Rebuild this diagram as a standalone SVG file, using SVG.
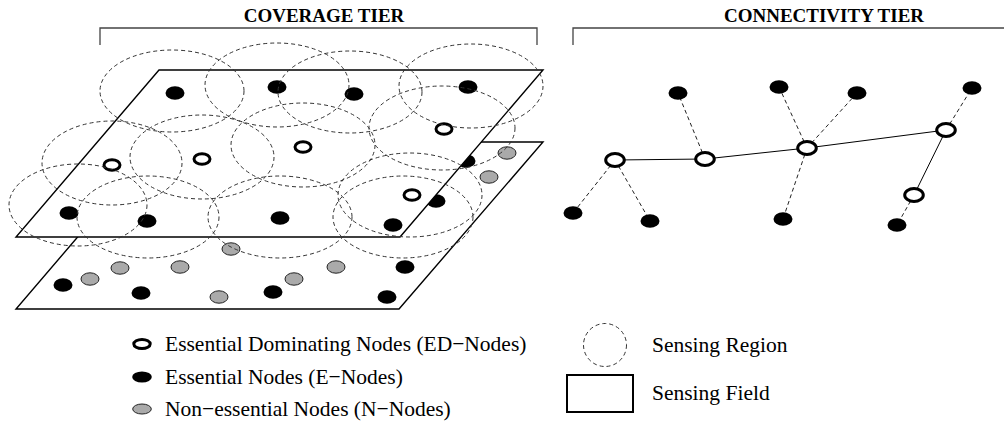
<svg xmlns="http://www.w3.org/2000/svg" width="1004" height="426" viewBox="0 0 1004 426">
  <style>
    .ed { fill: #fff; stroke: #000; stroke-width: 3; }
    .en { fill: #000; }
    .nn { fill: #aaa; stroke: #222; stroke-width: 1; }
    .sr { fill: none; stroke: #333; stroke-width: 1; stroke-dasharray: 4 3; }
    .field { fill: #fff; stroke: #000; stroke-width: 1.4; stroke-linejoin: miter; }
    .bracket { fill: none; stroke: #444; stroke-width: 1.3; }
    .link { stroke: #000; stroke-width: 1; fill: none; }
    .dash { stroke: #222; stroke-dasharray: 4 3; }
    .title { font-family: "Liberation Serif", "Times New Roman", serif; font-weight: bold; font-size: 19px; fill: #000; }
    .label { font-family: "Liberation Serif", "Times New Roman", serif; font-size: 21.5px; fill: #000; }
  </style>

  <rect width="1004" height="426" fill="#fff"/>

  <!-- Tier headings with brackets -->
  <g id="headings">
    <text class="title" x="324" y="22" text-anchor="middle">COVERAGE TIER</text>
    <polyline class="bracket" points="100,45 100,28 537,28 537,45"/>
    <text class="title" x="824" y="22" text-anchor="middle">CONNECTIVITY TIER</text>
    <polyline class="bracket" points="573,45 573,28 1004,28"/>
  </g>

  <!-- Coverage tier: lower sensing field with its nodes -->
  <g id="field-lower">
    <polygon class="field" points="159,142 543,142 399,309 16,309"/>
    <g id="lower-e1"><ellipse class="en" cx="466" cy="161" rx="9.5" ry="6.7"/></g>
    <g id="lower-e2"><ellipse class="en" cx="436" cy="201" rx="9.5" ry="6.7"/></g>
    <g id="lower-e3"><ellipse class="en" cx="63" cy="285" rx="9.5" ry="6.7"/></g>
    <g id="lower-e4"><ellipse class="en" cx="141" cy="293" rx="9.5" ry="6.7"/></g>
    <g id="lower-e5"><ellipse class="en" cx="273" cy="292" rx="9.5" ry="6.7"/></g>
    <g id="lower-e6"><ellipse class="en" cx="387" cy="297" rx="9.5" ry="6.7"/></g>
    <g id="lower-e7"><ellipse class="en" cx="405" cy="267" rx="9.5" ry="6.7"/></g>
    <g id="lower-n1"><ellipse class="nn" cx="507" cy="153" rx="9" ry="6.2"/></g>
    <g id="lower-n2"><ellipse class="nn" cx="489" cy="177" rx="9" ry="6.2"/></g>
    <g id="lower-n3"><ellipse class="nn" cx="90" cy="279" rx="9" ry="6.2"/></g>
    <g id="lower-n4"><ellipse class="nn" cx="120" cy="268" rx="9" ry="6.2"/></g>
    <g id="lower-n5"><ellipse class="nn" cx="180" cy="267" rx="9" ry="6.2"/></g>
    <g id="lower-n6"><ellipse class="nn" cx="231" cy="249" rx="9" ry="6.2"/></g>
    <g id="lower-n7"><ellipse class="nn" cx="219" cy="297" rx="9" ry="6.2"/></g>
    <g id="lower-n8"><ellipse class="nn" cx="294" cy="279" rx="9" ry="6.2"/></g>
    <g id="lower-n9"><ellipse class="nn" cx="336" cy="267" rx="9" ry="6.2"/></g>
  </g>

  <!-- Coverage tier: upper sensing field with its nodes -->
  <g id="field-upper">
    <polygon class="field" points="159,70 543,70 400,237 16,237"/>
    <g id="upper-e1"><ellipse class="en" cx="175" cy="93" rx="9.5" ry="6.7"/></g>
    <g id="upper-e2"><ellipse class="en" cx="277" cy="87" rx="9.5" ry="6.7"/></g>
    <g id="upper-e3"><ellipse class="en" cx="354" cy="94" rx="9.5" ry="6.7"/></g>
    <g id="upper-e4"><ellipse class="en" cx="468" cy="87" rx="9.5" ry="6.7"/></g>
    <g id="upper-e5"><ellipse class="en" cx="69" cy="213" rx="9.5" ry="6.7"/></g>
    <g id="upper-e6"><ellipse class="en" cx="147" cy="221" rx="9.5" ry="6.7"/></g>
    <g id="upper-e7"><ellipse class="en" cx="280" cy="218" rx="9.5" ry="6.7"/></g>
    <g id="upper-e8"><ellipse class="en" cx="393" cy="225" rx="9.5" ry="6.7"/></g>
    <g id="upper-d1"><ellipse class="ed" cx="112" cy="165" rx="8" ry="5.3"/></g>
    <g id="upper-d2"><ellipse class="ed" cx="202" cy="159" rx="8" ry="5.3"/></g>
    <g id="upper-d3"><ellipse class="ed" cx="303" cy="147" rx="8" ry="5.3"/></g>
    <g id="upper-d4"><ellipse class="ed" cx="444" cy="129" rx="8" ry="5.3"/></g>
    <g id="upper-d5"><ellipse class="ed" cx="412" cy="195" rx="8" ry="5.3"/></g>
  </g>

  <!-- Sensing regions of the upper-field nodes -->
  <g id="sensing-regions">
    <ellipse class="sr" cx="172" cy="91" rx="72" ry="41"/>
    <ellipse class="sr" cx="277" cy="85" rx="72" ry="42"/>
    <ellipse class="sr" cx="350" cy="92" rx="72" ry="41"/>
    <ellipse class="sr" cx="471" cy="86" rx="72" ry="42"/>
    <ellipse class="sr" cx="112" cy="163" rx="70" ry="42"/>
    <ellipse class="sr" cx="202" cy="157" rx="72" ry="42"/>
    <ellipse class="sr" cx="303" cy="145" rx="72" ry="42"/>
    <ellipse class="sr" cx="442" cy="128" rx="73" ry="42"/>
    <ellipse class="sr" cx="78" cy="205" rx="69" ry="41"/>
    <ellipse class="sr" cx="148" cy="217" rx="71" ry="41"/>
    <ellipse class="sr" cx="280" cy="217" rx="72" ry="41"/>
    <ellipse class="sr" cx="410" cy="195" rx="72" ry="42"/>
    <ellipse class="sr" cx="403" cy="217" rx="70" ry="41"/>
  </g>

  <!-- Connectivity tier: backbone and attachment links -->
  <g id="connectors">
    <line class="link" x1="615" y1="160" x2="705" y2="159"/>
    <line class="link" x1="705" y1="159" x2="807" y2="148"/>
    <line class="link" x1="807" y1="148" x2="946" y2="130"/>
    <line class="link" x1="946" y1="130" x2="914" y2="195"/>
    <line class="link dash" x1="615" y1="160" x2="573" y2="213"/>
    <line class="link dash" x1="615" y1="160" x2="650" y2="221"/>
    <line class="link dash" x1="705" y1="159" x2="678" y2="93"/>
    <line class="link dash" x1="807" y1="148" x2="779" y2="87"/>
    <line class="link dash" x1="807" y1="148" x2="857" y2="93"/>
    <line class="link dash" x1="807" y1="148" x2="783" y2="219"/>
    <line class="link dash" x1="946" y1="130" x2="972" y2="88"/>
    <line class="link dash" x1="914" y1="195" x2="897" y2="225"/>
  </g>

  <!-- Connectivity tier nodes -->
  <g id="c-d1"><ellipse class="ed" cx="615" cy="160" rx="9.3" ry="6.5"/></g>
  <g id="c-d2"><ellipse class="ed" cx="705" cy="159" rx="9.3" ry="6.5"/></g>
  <g id="c-d3"><ellipse class="ed" cx="807" cy="148" rx="9.3" ry="6.5"/></g>
  <g id="c-d4"><ellipse class="ed" cx="946" cy="130" rx="9.3" ry="6.5"/></g>
  <g id="c-d5"><ellipse class="ed" cx="914" cy="195" rx="9.3" ry="6.5"/></g>
  <g id="c-e1"><ellipse class="en" cx="678" cy="93" rx="9.5" ry="6.7"/></g>
  <g id="c-e2"><ellipse class="en" cx="779" cy="87" rx="9.5" ry="6.7"/></g>
  <g id="c-e3"><ellipse class="en" cx="857" cy="93" rx="9.5" ry="6.7"/></g>
  <g id="c-e4"><ellipse class="en" cx="972" cy="88" rx="9.5" ry="6.7"/></g>
  <g id="c-e5"><ellipse class="en" cx="573" cy="213" rx="9.5" ry="6.7"/></g>
  <g id="c-e6"><ellipse class="en" cx="650" cy="221" rx="9.5" ry="6.7"/></g>
  <g id="c-e7"><ellipse class="en" cx="783" cy="219" rx="9.5" ry="6.7"/></g>
  <g id="c-e8"><ellipse class="en" cx="897" cy="225" rx="9.5" ry="6.7"/></g>

  <!-- Legend -->
  <g id="legend">
    <g id="legend-ed">
      <ellipse class="ed" cx="142" cy="344" rx="8.2" ry="4.6" stroke-width="2.7"/>
      <text class="label" x="165" y="351">Essential Dominating Nodes (ED−Nodes)</text>
    </g>
    <g id="legend-e">
      <ellipse class="en" cx="142" cy="377" rx="9.8" ry="5.6"/>
      <text class="label" x="165" y="384">Essential Nodes (E−Nodes)</text>
    </g>
    <g id="legend-n">
      <ellipse class="nn" cx="142" cy="409" rx="9.3" ry="5"/>
      <text class="label" x="165" y="416">Non−essential Nodes (N−Nodes)</text>
    </g>
    <g id="legend-region">
      <circle class="sr" cx="605" cy="345" r="21.5"/>
      <text class="label" x="652" y="352">Sensing Region</text>
    </g>
    <g id="legend-field">
      <rect x="567" y="375" width="66" height="37" fill="#fff" stroke="#000" stroke-width="2"/>
      <text class="label" x="652" y="400">Sensing Field</text>
    </g>
  </g>
</svg>
